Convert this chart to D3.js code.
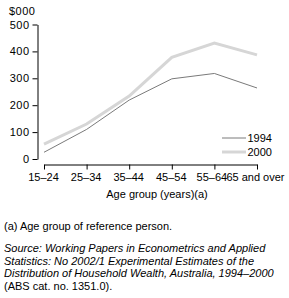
<!DOCTYPE html>
<html><head><meta charset="utf-8">
<script src="https://cdn.jsdelivr.net/npm/d3@7"></script>
<style>
body{margin:0;background:#fff;}
text{font-family:"Liberation Sans",Arial,sans-serif;fill:#000;}
</style></head><body>
<svg id="c" width="289" height="298"></svg>
<script>
const categories = ["15–24","25–34","35–44","45–54","55–64","65 and over"];
const values1994 = [25, 110, 219, 298, 318, 264];
const values2000 = [55, 130, 234, 378, 431, 387];
const yTicks = [0,100,200,300,400,500];
const seriesNames = ["1994","2000"];

const svg = d3.select("#c");
const fs = "11px";
const x = d3.scalePoint().domain(categories).range([44, 257]);
const y = d3.scaleLinear().domain([0,500]).range([159, 24.5]);

// y axis
const ya = svg.append("g").attr("transform","translate(37.5,0)")
  .call(d3.axisLeft(y).tickValues(yTicks).tickSize(5).tickSizeOuter(0).tickPadding(3));
ya.selectAll("text").style("font-size",fs).style("letter-spacing","0.5px")
  .style("font-family","'Liberation Sans',Arial,sans-serif");
ya.selectAll("path,line").attr("stroke","#000");

// x axis
const xa = svg.append("g").attr("transform","translate(0,164.5)")
  .call(d3.axisBottom(x).tickSize(5).tickSizeOuter(0).tickPadding(4));
xa.selectAll("text").style("font-size",fs).style("font-family","'Liberation Sans',Arial,sans-serif")
  .attr("dx", -1);
xa.selectAll("path,line").attr("stroke","#000");
xa.selectAll(".tick text").filter(d => d === categories[4]).attr("dx", -3);
xa.selectAll(".tick text").filter(d => d === categories[categories.length-1])
  .attr("text-anchor","end").attr("dx", 27);

svg.append("text").attr("x",9).attr("y",15).style("font-size",fs).style("letter-spacing","0.5px").text("$000");

const line = d3.line().x((d,i)=>x(categories[i])).y(d=>y(d));
svg.append("path").datum(values2000).attr("d",line).attr("fill","none")
  .attr("stroke","#d6d6d6").attr("stroke-width",3);
svg.append("path").datum(values1994).attr("d",line).attr("fill","none")
  .attr("stroke","#7a7a7a").attr("stroke-width",1);

// legend
const leg = [{n:seriesNames[0],c:"#7a7a7a",w:1,y:138},{n:seriesNames[1],c:"#d6d6d6",w:3,y:152}];
leg.forEach(l=>{
  svg.append("line").attr("x1",222).attr("x2",246).attr("y1",l.y).attr("y2",l.y)
    .attr("stroke",l.c).attr("stroke-width",l.w);
  svg.append("text").attr("x",247.5).attr("y",l.y+4).style("font-size",fs).text(l.n);
});

svg.append("text").attr("x",157).attr("y",197.5).attr("text-anchor","middle")
  .style("font-size",fs).text("Age group (years)(a)");
svg.append("text").attr("x",4).attr("y",230).style("font-size",fs).text("(a) Age group of reference person.");
const src = ["Source: Working Papers in Econometrics and Applied",
 "Statistics: No 2002/1 Experimental Estimates of the",
 "Distribution of Household Wealth, Australia, 1994–2000",
 "(ABS cat. no. 1351.0)."];
src.forEach((s,i)=>{
  svg.append("text").attr("x",4).attr("y",252+i*12.7).style("font-size",fs)
    .style("font-style", i<3 ? "italic" : "normal").text(s);
});
</script></body></html>
